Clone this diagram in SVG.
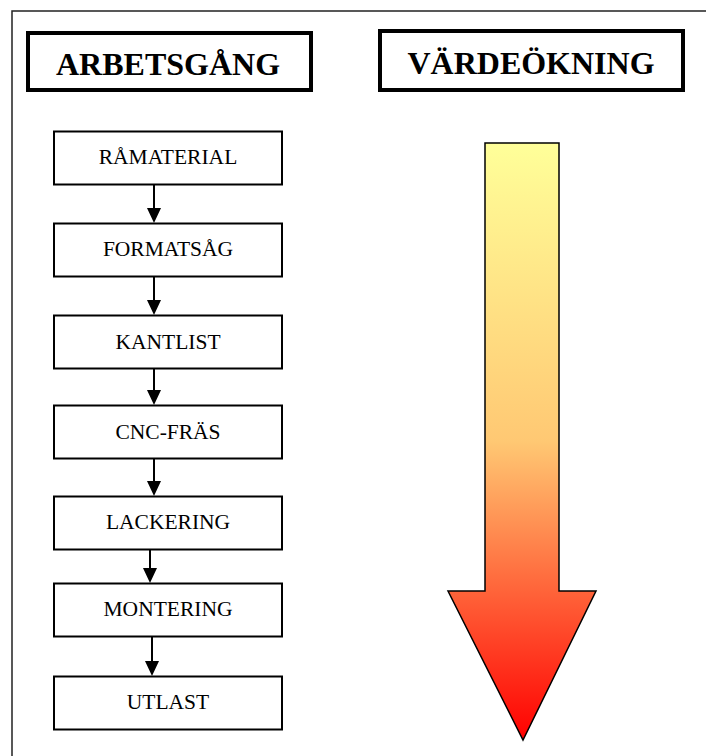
<svg xmlns="http://www.w3.org/2000/svg" width="706" height="756" viewBox="0 0 706 756">
  <style>
    .frame { fill: none; stroke: #222; stroke-width: 1.5; }
    .head { fill: #fff; stroke: #000; stroke-width: 4; }
    .head-text { font-family: "Liberation Serif", "Times New Roman", serif; font-weight: bold; font-size: 32px; text-anchor: middle; fill: #000; }
    .step { fill: #fff; stroke: #000; stroke-width: 2; }
    .step-text { font-family: "Liberation Serif", "Times New Roman", serif; font-size: 21.5px; text-anchor: middle; fill: #000; }
    .link { stroke: #000; stroke-width: 2; fill: none; }
    .link-head { fill: #000; }
  </style>
  <defs>
    <linearGradient id="heat" x1="0" y1="0" x2="0" y2="1">
      <stop offset="0" stop-color="#FFFF99"/>
      <stop offset="0.5" stop-color="#FFC873"/>
      <stop offset="1" stop-color="#FF0000"/>
    </linearGradient>
  </defs>

  <rect x="0" y="0" width="706" height="756" fill="#fff"/>
  <!-- page frame, running past the right and bottom edges -->
  <rect class="frame" x="12" y="11" width="720" height="770"/>

  <g id="header-arbetsgang">
    <rect class="head" x="28" y="33" width="283" height="57"/>
    <text class="head-text" x="168" y="75">ARBETSGÅNG</text>
  </g>
  <g id="header-vardeokning">
    <rect class="head" x="380" y="31" width="303" height="59"/>
    <text class="head-text" x="531" y="74">VÄRDEÖKNING</text>
  </g>

  <g id="value-arrow">
    <polygon points="485,143 559,143 559,591 596,591 523,740 448,591 485,591" fill="url(#heat)" stroke="#000" stroke-width="1.5"/>
  </g>

  <g id="connectors">
    <path class="link" d="M154,184.5 L154,208.5"/>
    <path class="link-head" d="M147,208 L161,208 L154,223 Z"/>
    <path class="link" d="M154,276.5 L154,300.5"/>
    <path class="link-head" d="M147,300 L161,300 L154,315 Z"/>
    <path class="link" d="M154,368.5 L154,390.5"/>
    <path class="link-head" d="M147,390 L161,390 L154,405 Z"/>
    <path class="link" d="M154,458.5 L154,481.5"/>
    <path class="link-head" d="M147,481 L161,481 L154,496 Z"/>
    <path class="link" d="M150,549.5 L150,568.5"/>
    <path class="link-head" d="M143,568 L157,568 L150,583 Z"/>
    <path class="link" d="M152,636.5 L152,661.5"/>
    <path class="link-head" d="M145,661 L159,661 L152,676 Z"/>
  </g>

  <g id="step-ramaterial">
    <rect class="step" x="54" y="131.5" width="228" height="53"/>
    <text class="step-text" x="168" y="163.5">RÅMATERIAL</text>
  </g>
  <g id="step-formatsag">
    <rect class="step" x="54" y="223.5" width="228" height="53"/>
    <text class="step-text" x="168" y="256">FORMATSÅG</text>
  </g>
  <g id="step-kantlist">
    <rect class="step" x="54" y="315.5" width="228" height="53"/>
    <text class="step-text" x="168" y="348.5">KANTLIST</text>
  </g>
  <g id="step-cnc-fras">
    <rect class="step" x="54" y="405.5" width="228" height="53"/>
    <text class="step-text" x="168" y="438.5">CNC-FRÄS</text>
  </g>
  <g id="step-lackering">
    <rect class="step" x="54" y="496.5" width="228" height="53"/>
    <text class="step-text" x="168" y="528.5">LACKERING</text>
  </g>
  <g id="step-montering">
    <rect class="step" x="54" y="583.5" width="228" height="53"/>
    <text class="step-text" x="168" y="615.5">MONTERING</text>
  </g>
  <g id="step-utlast">
    <rect class="step" x="54" y="676.5" width="228" height="53"/>
    <text class="step-text" x="168" y="708.5">UTLAST</text>
  </g>
</svg>
